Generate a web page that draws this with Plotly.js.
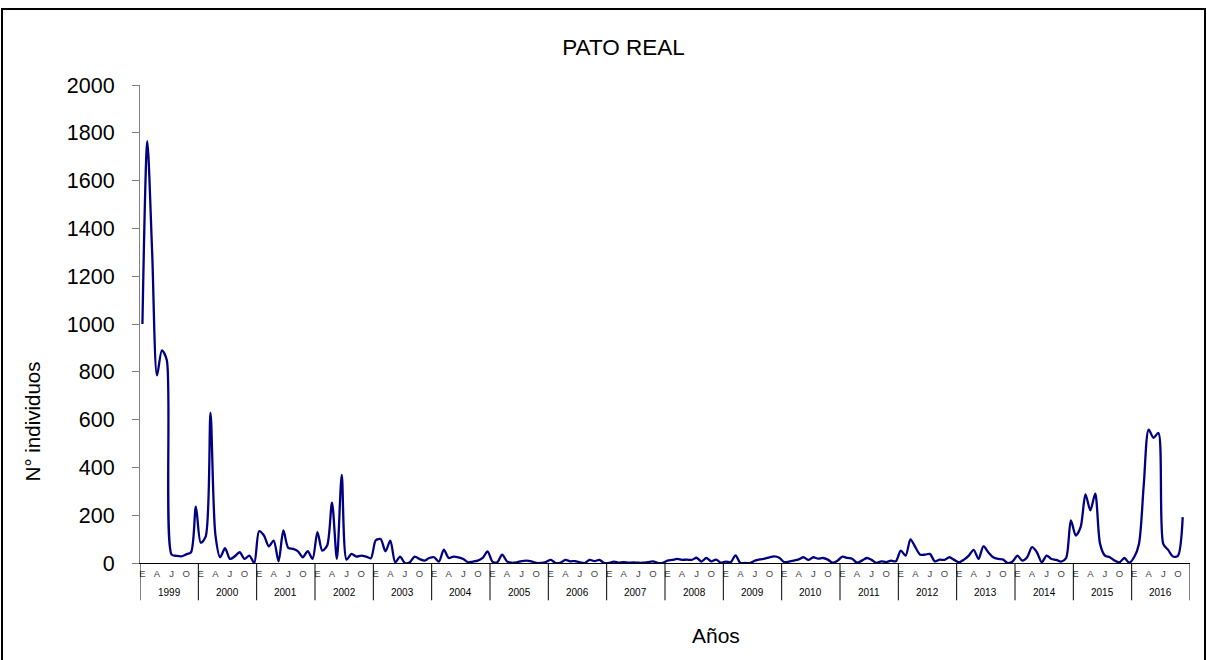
<!DOCTYPE html>
<html>
<head>
<meta charset="utf-8">
<script src="https://cdn.plot.ly/plotly-3.0.1.min.js"></script>
<style>
  html, body { margin: 0; padding: 0; background: #fff; overflow: hidden; }
  #frame { position: absolute; left: 1px; top: 8px; width: 1201px; height: 800px; border: 2px solid #000; z-index: 0; }
  #chart { position: absolute; left: 0; top: 0; width: 1207px; height: 660px; z-index: 1; }
</style>
</head>
<body>
<div id="frame"></div>
<div id="chart"></div>
<script>
// ---- Data (monthly counts, Jan..Dec per year) ----
const years = [1999, 2000, 2001, 2002, 2003, 2004, 2005, 2006, 2007, 2008, 2009, 2010, 2011, 2012, 2013, 2014, 2015, 2016];
const monthLabels = ['E', '', '', 'A', '', '', 'J', '', '', 'O', '', ''];

const v1999 = [1000, 1765, 1300, 785, 890, 850, 35, 30, 28, 36, 45, 236];
const v2000 = [85, 110, 629, 120, 24, 62, 17, 28, 45, 17, 31, 0];
const v2001 = [133, 115, 70, 94, 7, 136, 63, 59, 49, 24, 50, 17];
const v2002 = [129, 52, 73, 253, 17, 369, 14, 38, 27, 31, 27, 20];
const v2003 = [95, 100, 49, 94, 3, 27, 0, 3, 27, 17, 10, 21];
const v2004 = [24, 6, 56, 21, 27, 24, 17, 3, 6, 10, 21, 49];
const v2005 = [6, 3, 35, 7, 1, 3, 8, 10, 7, 0, 0, 4];
const v2006 = [13, 0, 1, 13, 7, 8, 3, 0, 13, 8, 13, 0];
const v2007 = [0, 6, 1, 4, 1, 3, 1, 1, 4, 7, 1, 0];
const v2008 = [10, 13, 17, 13, 14, 13, 22, 6, 21, 7, 14, 1];
const v2009 = [6, 3, 32, 0, 0, 0, 10, 15, 18, 24, 28, 22];
const v2010 = [4, 6, 10, 15, 24, 13, 24, 18, 21, 14, 1, 10];
const v2011 = [27, 21, 18, 1, 10, 21, 13, 0, 7, 4, 10, 7];
const v2012 = [52, 31, 99, 66, 35, 35, 38, 7, 14, 13, 24, 13];
const v2013 = [3, 14, 31, 55, 17, 70, 45, 24, 17, 15, 0, 6];
const v2014 = [31, 10, 24, 66, 45, 3, 31, 17, 13, 6, 20, 178];
const v2015 = [115, 150, 287, 220, 290, 80, 31, 24, 10, 3, 21, 1];
const v2016 = [24, 80, 331, 558, 524, 544, 80, 55, 27, 30, 192, null];

const yearValues = [v1999, v2000, v2001, v2002, v2003, v2004, v2005, v2006, v2007,
                    v2008, v2009, v2010, v2011, v2012, v2013, v2014, v2015, v2016];

// ---- Build series on a month-index axis ----
const xs = [], ys = [];
yearValues.forEach((arr, yi) => arr.forEach((v, m) => { xs.push(yi * 12 + m); ys.push(v); }));

const tickvals = [], ticktext = [];
years.forEach((y, yi) => monthLabels.forEach((lab, m) => {
  if (lab) { tickvals.push(yi * 12 + m); ticktext.push(lab); }
}));

const nMonths = years.length * 12;
const FONT = 'Liberation Sans, Arial, sans-serif';

// Year separators and labels (second axis row)
const shapes = [];
for (let k = 0; k <= years.length; k++) {
  shapes.push({ type: 'line', xref: 'x', yref: 'paper', x0: k * 12 - 0.5, x1: k * 12 - 0.5,
                y0: 0, y1: -0.078, line: { color: '#000', width: 1 } });
}
const annotations = years.map((y, yi) => ({
  x: yi * 12 + 5.5, xref: 'x', y: -0.061, yref: 'paper', yanchor: 'middle',
  text: String(y), showarrow: false, font: { family: FONT, size: 10, color: '#000' }
}));
annotations.push({ x: 0.5486, xref: 'paper', y: -0.151, yref: 'paper', yanchor: 'middle', xanchor: 'center',
  text: 'Años', showarrow: false, font: { family: FONT, size: 21, color: '#000' } });
annotations.push({ x: -0.102, xref: 'paper', y: 0.296, yref: 'paper', xanchor: 'center', yanchor: 'middle',
  text: 'N° individuos', textangle: -90, showarrow: false, font: { family: FONT, size: 20.5, color: '#000' } });

const trace = {
  x: xs, y: ys, type: 'scatter', mode: 'lines',
  line: { color: '#000080', width: 2.3, shape: 'spline', smoothing: 0.8 },
  hoverinfo: 'x+y'
};

const layout = {
  width: 1207, height: 660,
  margin: { l: 140, r: 17, t: 85, b: 97 },
  paper_bgcolor: 'rgba(0,0,0,0)', plot_bgcolor: 'rgba(0,0,0,0)',
  showlegend: false,
  title: { text: 'PATO REAL', x: 0.5166, xref: 'container', xanchor: 'center',
           y: 0.929, yref: 'container', yanchor: 'middle',
           font: { family: FONT, size: 22.5, color: '#000' } },
  xaxis: {
    range: [-0.5, nMonths - 0.5], showgrid: false, zeroline: false,
    showline: true, linecolor: '#000', linewidth: 1,
    tickmode: 'array', tickvals: tickvals, ticktext: ticktext, ticks: '',
    tickangle: 0, ticklabelstandoff: 2,
    tickfont: { family: FONT, size: 9.5, color: '#444' }
  },
  yaxis: {
    range: [0, 2000], dtick: 200, tick0: 0, showgrid: false, zeroline: false,
    showline: true, linecolor: '#808080', linewidth: 1,
    ticks: 'outside', ticklen: 7, tickcolor: '#808080', ticklabelstandoff: 13,
    tickfont: { family: FONT, size: 21.5, color: '#000' }
  },
  shapes: shapes,
  annotations: annotations
};

Plotly.newPlot('chart', [trace], layout, { displayModeBar: false, staticPlot: true });
</script>
</body>
</html>
